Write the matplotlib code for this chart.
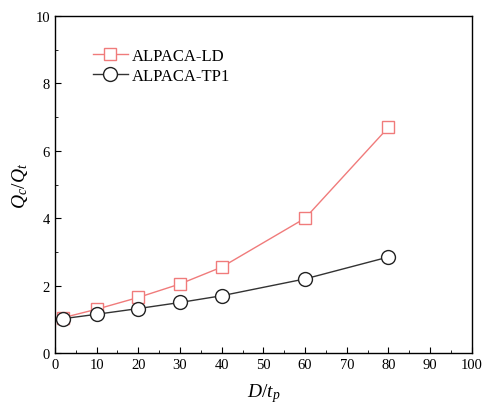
import matplotlib
matplotlib.use("Agg")
import matplotlib.pyplot as plt
from matplotlib.ticker import MultipleLocator

plt.rcParams['font.family'] = ['Liberation Serif', 'DejaVu Serif']
plt.rcParams['mathtext.fontset'] = 'custom'
plt.rcParams['mathtext.it'] = 'Liberation Serif:italic'
plt.rcParams['mathtext.rm'] = 'Liberation Serif'

d_tp = [2, 10, 20, 30, 40, 60, 80]
ld_vals = [1.05, 1.3, 1.65, 2.05, 2.55, 4.0, 6.7]
tp1_vals = [1.02, 1.15, 1.32, 1.5, 1.7, 2.2, 2.85]

fig = plt.figure(figsize=(4.82, 4.06), dpi=100)
ax = fig.add_axes([0.114, 0.128, 0.865, 0.830])

ax.plot(d_tp, ld_vals, color='#f07b7b', lw=1.0, marker='s', ms=8,
        mfc='white', mec='#f07b7b', mew=1.0, label='ALPACA-LD')
ax.plot(d_tp, tp1_vals, color='#333333', lw=1.0, marker='o', ms=10,
        mfc='white', mec='#222222', mew=1.0, label='ALPACA-TP1')

ax.set_xlim(0, 100)
ax.set_ylim(0, 10)
ax.xaxis.set_major_locator(MultipleLocator(10))
ax.xaxis.set_minor_locator(MultipleLocator(5))
ax.yaxis.set_major_locator(MultipleLocator(2))
ax.yaxis.set_minor_locator(MultipleLocator(1))
ax.tick_params(which='both', direction='in', top=False, right=False, labelsize=10.5)
ax.tick_params(which='major', length=4)
ax.tick_params(which='minor', length=2.5)
for s in ax.spines.values():
    s.set_linewidth(1.0)

ax.set_xlabel(r'$D/t_p$', fontsize=14, labelpad=7)
ax.set_ylabel(r'$Q_c/Q_t$', fontsize=14, labelpad=4)

ax.legend(loc='upper left', bbox_to_anchor=(0.055, 0.95), frameon=False,
          fontsize=12, handlelength=2.1, handletextpad=0.25, labelspacing=0.25)

fig.savefig('out.png', dpi=100)
